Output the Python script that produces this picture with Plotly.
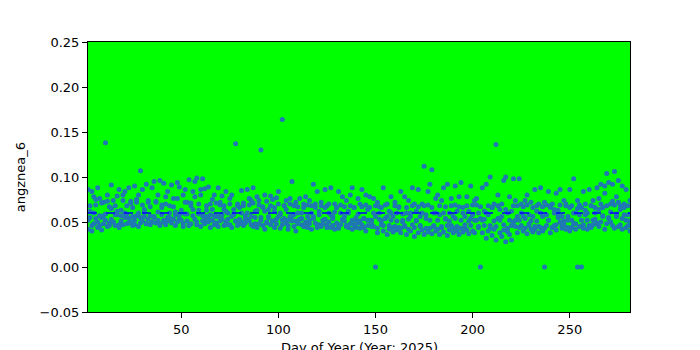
import plotly.graph_objects as go
import numpy as np

first_day = 2
last_day = 281
days = list(range(first_day, last_day + 1))

# values in thousandths, three observations per day
series_a_milli = [
    86,62,84,78,69,88,76,55,72,138,80,67,91,74,58,79,86,63,80,84,
    68,88,73,56,90,75,80,107,86,61,92,74,57,88,95,72,80,96,69,93,
    78,84,60,91,76,58,94,89,63,80,86,72,97,68,84,95,99,70,86,98,
    87,63,89,58,75,80,56,88,72,79,64,84,60,76,80,58,137,70,66,85,
    71,57,86,69,74,88,62,78,74,130,66,80,73,56,79,75,62,77,84,60,
    164,68,74,52,76,95,58,72,60,76,54,70,78,56,74,60,92,66,84,58,
    72,52,86,68,60,88,54,70,66,84,60,78,56,74,62,80,88,66,52,76,
    70,86,54,80,64,78,52,76,56,72,60,66,88,54,70,62,78,56,72,60,
    66,84,50,78,60,74,56,88,70,62,86,56,70,112,58,84,92,108,60,76,
    80,58,74,88,54,92,60,76,56,90,62,78,94,66,56,78,62,90,58,74,
    76,60,54,88,62,92,58,100,66,70,136,80,64,56,96,100,60,78,62,98,
    74,56,98,70,56,74,80,58,72,56,86,62,70,88,56,72,58,84,66,70,
    64,82,58,86,56,74,70,52,86,68,98,60,74,58,66,84,70,52,86,68,
    74,60,88,76,92,66,90,104,94,70,92,106,78,96,64,90,70,86,58,74,
]
series_b_milli = [
    52,68,46,60,75,44,57,71,48,59,73,46,65,50,68,62,47,57,74,60,
    58,49,71,66,47,72,60,55,69,64,48,72,67,50,56,73,61,48,66,52,
    70,55,68,53,67,61,76,54,60,48,72,59,46,71,64,78,50,63,80,57,
    52,68,55,70,64,47,71,56,69,53,68,62,47,70,56,64,51,68,53,60,
    68,54,60,76,56,71,48,63,69,55,67,62,50,64,68,51,66,53,70,58,
    52,68,64,46,70,56,68,51,67,53,60,66,45,69,52,68,54,70,47,62,
    68,52,66,44,70,58,46,61,66,43,69,52,67,45,60,68,52,66,44,59,
    51,67,44,69,52,66,45,60,68,43,67,51,46,69,56,42,60,44,68,51,
    67,43,59,45,66,42,60,68,44,51,67,46,60,68,43,69,52,66,45,60,
    52,68,44,60,67,46,51,68,43,69,45,67,52,60,44,68,51,46,69,52,
    69,44,67,52,46,60,68,43,66,51,45,68,52,70,47,64,39,52,46,68,
    52,68,44,60,67,43,69,46,51,66,42,68,45,60,67,43,69,52,68,44,
    60,47,63,69,46,51,68,44,66,52,60,48,65,69,52,47,63,60,46,68,
    52,66,48,64,70,57,82,68,55,61,73,69,56,72,68,54,66,52,68,51,
]
series_c_milli = [
    42,55,40,48,54,50,46,41,57,52,45,49,53,50,46,58,44,51,47,55,
    48,54,50,46,52,57,45,49,51,56,48,53,47,50,55,49,52,46,58,50,
    47,51,55,49,53,46,50,58,52,45,59,51,46,48,57,53,47,59,45,51,
    48,56,50,44,52,57,49,45,51,58,46,50,53,47,44,59,51,46,48,50,
    46,49,53,51,47,45,55,44,48,52,46,42,49,55,47,51,44,48,56,43,
    47,54,49,42,56,51,45,40,48,53,47,45,50,44,48,42,56,49,44,47,
    45,48,53,47,50,44,56,42,49,45,47,53,51,46,44,48,42,47,55,49,
    43,47,54,40,46,52,48,45,0,38,53,47,40,54,36,46,52,39,45,41,
    44,38,52,46,36,53,40,47,34,52,38,45,41,36,54,39,43,37,46,40,
    42,36,45,39,53,35,41,46,38,54,40,36,43,39,47,41,37,54,40,38,
    52,45,0,38,53,32,40,46,35,42,30,54,38,34,41,28,43,36,30,50,
    45,38,52,46,40,54,37,48,42,39,45,51,38,44,40,0,46,52,38,44,
    46,41,55,50,43,47,42,56,40,44,48,42,0,45,0,43,58,42,45,44,
    47,53,49,45,50,56,42,48,54,50,46,43,59,45,47,42,58,44,46,40,
]

x_all = days * 3
y_all = [v / 1000 for v in series_a_milli + series_b_milli + series_c_milli]
mean_val = float(np.mean(y_all))

fig = go.Figure()
fig.add_trace(go.Scatter(
    x=x_all, y=y_all, mode="markers",
    marker=dict(color="#1f77b4", size=5, line=dict(width=0)),
    showlegend=False,
))
fig.add_shape(type="line", xref="x domain", yref="y", x0=0, x1=1,
              y0=mean_val, y1=mean_val, layer="above",
              line=dict(color="blue", width=1.5, dash="dash"))

font = dict(family="DejaVu Sans", size=13, color="black")
fig.update_layout(
    width=700, height=350,
    margin=dict(l=88, r=70, t=42, b=38),
    paper_bgcolor="white", plot_bgcolor="#00ff00",
    font=font,
    xaxis=dict(range=[min(days), max(days)], tickvals=[50, 100, 150, 200, 250],
               showgrid=False, zeroline=False, showline=True, mirror=True,
               linecolor="black", linewidth=1, ticks="outside", ticklen=5,
               tickcolor="black", tickfont=font),
    yaxis=dict(range=[-0.05, 0.25],
               tickvals=[-0.05, 0.0, 0.05, 0.10, 0.15, 0.20, 0.25],
               ticktext=["\u22120.05", "0.00", "0.05", "0.10", "0.15", "0.20", "0.25"],
               showgrid=False, zeroline=False, showline=True, mirror=True,
               linecolor="black", linewidth=1, ticks="outside", ticklen=5,
               tickcolor="black", tickfont=font),
    annotations=[
        dict(text="Day of Year (Year: 2025)", xref="paper", yref="paper",
             x=0.5, y=-0.098, xanchor="center", yanchor="top",
             showarrow=False, font=font),
        dict(text="angznea_6", xref="paper", yref="paper",
             x=-0.125, y=0.5, xanchor="center", yanchor="middle",
             textangle=-90, showarrow=False, font=font),
    ],
)
fig.write_html("out.html")
